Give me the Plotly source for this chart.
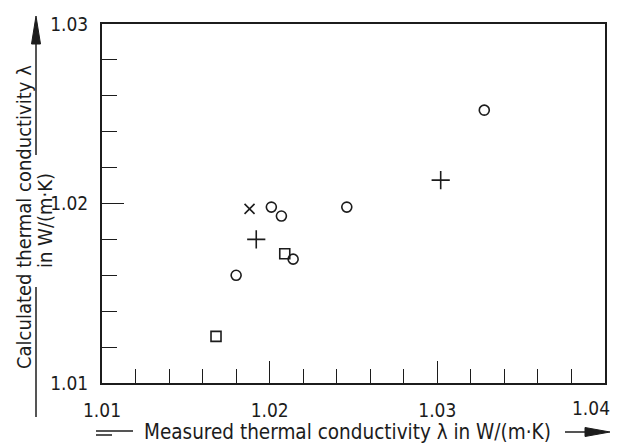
import plotly.graph_objects as go

# ---- data ----
circle_x = [1.0180, 1.0201, 1.0207, 1.0214, 1.0246, 1.0328]
circle_y = [1.0160, 1.0198, 1.0193, 1.0169, 1.0198, 1.0252]
square_x = [1.0168, 1.0209]
square_y = [1.0126, 1.0172]
plus_x = [1.0192, 1.0302]
plus_y = [1.0180, 1.0213]
cross_x = [1.0188]
cross_y = [1.0197]

x_ticks = [1.01, 1.02, 1.03, 1.04]
x_tick_labels = ["1.01", "1.02", "1.03", "1.04"]
y_ticks = [1.01, 1.02, 1.03]
y_tick_labels = ["1.01", "1.02", "1.03"]

x_title = "Measured thermal conductivity λ in W/(m·K)"
y_title_1 = "Calculated thermal conductivity λ"
y_title_2 = "in W/(m·K)"

# page has an 8px body margin, so the figure is placed at (8, 8)
OFF = 8
W, H = 603, 437
PL, PR, PT, PB = 102, 605, 24, 383          # plot area in page pixels
L, R, T, B = PL - OFF, W - (PR - OFF), PT - OFF, H - (PB - OFF)
PW, PH = W - L - R, H - T - B
INK = "#1c1c1c"
FONT = "DejaVu Sans Condensed, Liberation Sans Narrow, Roboto, sans-serif"


def px(xp):
    return (xp - PL) / PW


def py(yp):
    return (PB - yp) / PH


fig = go.Figure()
mk = dict(color=INK, line=dict(color=INK, width=1.6))
fig.add_trace(go.Scatter(x=circle_x, y=circle_y, mode="markers",
                         marker=dict(symbol="circle-open", size=10, **mk)))
fig.add_trace(go.Scatter(x=square_x, y=square_y, mode="markers",
                         marker=dict(symbol="square-open", size=10, **mk)))
fig.add_trace(go.Scatter(x=plus_x, y=plus_y, mode="markers",
                         marker=dict(symbol="cross-thin-open", size=13, **mk)))
fig.add_trace(go.Scatter(x=cross_x, y=cross_y, mode="markers",
                         marker=dict(symbol="x-thin-open", size=10, **mk)))

tick_font = dict(family=FONT, size=19, color=INK)
axis_common = dict(showgrid=False, zeroline=False, showline=True, mirror=True,
                   automargin=False,
                   linewidth=2, linecolor=INK, ticks="inside", ticklen=22,
                   tickwidth=1.3, tickcolor=INK, tickfont=tick_font)
# last x label (1.04) sits at the very edge of the page -> drawn as annotation
fig.update_xaxes(range=[1.01, 1.04], tickvals=x_ticks,
                 ticktext=x_tick_labels[:-1] + [""],
                 minor=dict(dtick=0.002, tick0=1.01, ticks="inside", ticklen=14,
                            tickwidth=1.3, tickcolor=INK),
                 ticklabelstandoff=9, **axis_common)
fig.update_yaxes(range=[1.01, 1.03], tickvals=y_ticks, ticktext=y_tick_labels,
                 minor=dict(dtick=0.002, tick0=1.01, ticks="inside", ticklen=15,
                            tickwidth=1.3, tickcolor=INK),
                 ticklabelstandoff=8, **axis_common)

ann_font = dict(family=FONT, size=20, color=INK)
annotations = [
    dict(text=x_tick_labels[-1], x=px(611), y=py(408), xref="paper", yref="paper",
         showarrow=False, xanchor="right", yanchor="middle", font=tick_font,
         borderpad=0),
    dict(text=x_title, x=px(347), y=py(432), xref="paper", yref="paper",
         showarrow=False, xanchor="center", yanchor="middle",
         font=dict(family=FONT, size=20.5, color=INK)),
    dict(text=y_title_1, x=px(24), y=py(217), xref="paper", yref="paper",
         showarrow=False, xanchor="center", yanchor="middle", textangle=-90,
         font=ann_font),
    dict(text=y_title_2, x=px(45), y=py(221), xref="paper", yref="paper",
         showarrow=False, xanchor="center", yanchor="middle", textangle=-90,
         font=ann_font),
]

line_style = dict(color=INK, width=1.5)
shapes = [
    # y-axis fraction bar / arrow shaft
    dict(type="line", xref="paper", yref="paper", x0=px(36), x1=px(36),
         y0=py(417), y1=py(287), line=line_style),
    dict(type="line", xref="paper", yref="paper", x0=px(36), x1=px(36),
         y0=py(155), y1=py(40), line=line_style),
    dict(type="path", xref="paper", yref="paper",
         path=f"M {px(36)},{py(16)} L {px(31.5)},{py(44)} L {px(40.5)},{py(44)} Z",
         fillcolor=INK, line=dict(color=INK, width=1)),
    # x-axis title decorations
    dict(type="line", xref="paper", yref="paper", x0=px(96), x1=px(133),
         y0=py(431), y1=py(431), line=line_style),
    dict(type="line", xref="paper", yref="paper", x0=px(96), x1=px(112),
         y0=py(435), y1=py(435), line=line_style),
    dict(type="line", xref="paper", yref="paper", x0=px(565), x1=px(588),
         y0=py(432), y1=py(432), line=line_style),
    dict(type="path", xref="paper", yref="paper",
         path=f"M {px(610)},{py(432)} L {px(585)},{py(427.5)} L {px(585)},{py(436.5)} Z",
         fillcolor=INK, line=dict(color=INK, width=1)),
]

fig.update_layout(width=W, height=H, margin=dict(l=L, r=R, t=T, b=B),
                  paper_bgcolor="white", plot_bgcolor="white",
                  showlegend=False, annotations=annotations, shapes=shapes)

fig.write_html("out.html")
